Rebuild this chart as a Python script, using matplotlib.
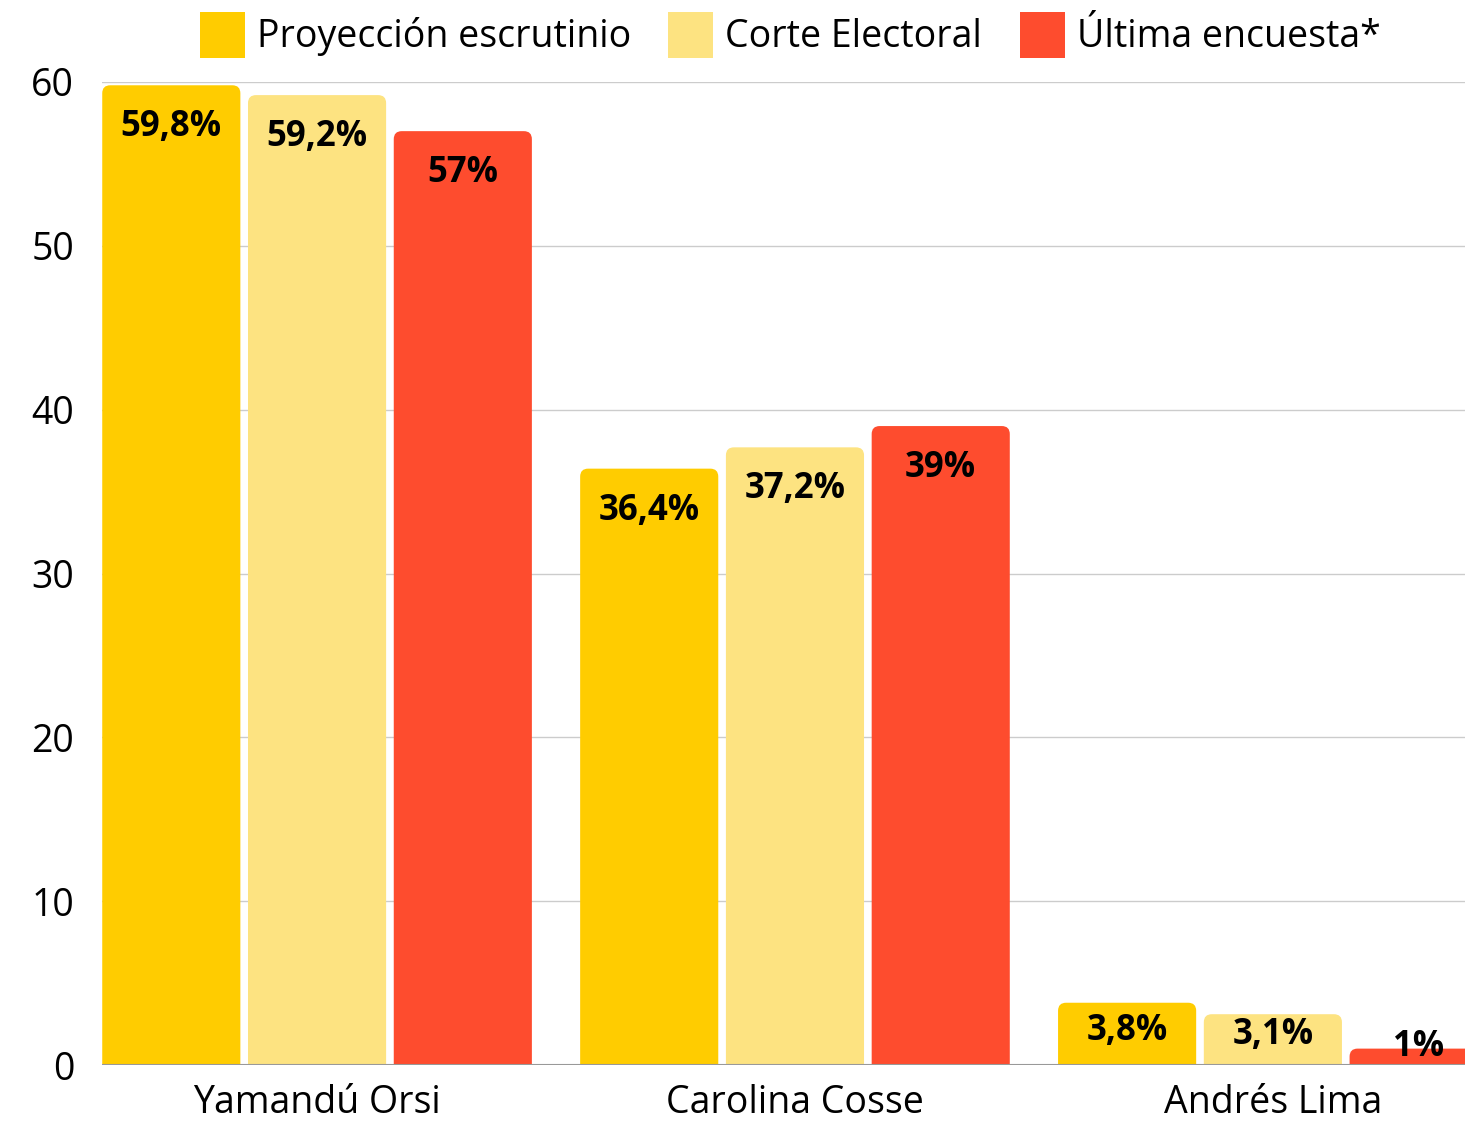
import matplotlib.pyplot as plt
from matplotlib.path import Path
from matplotlib.patches import PathPatch
import numpy as np

plt.rcParams['font.family'] = ['Open Sans', 'DejaVu Sans']

candidates = ['Yamandú Orsi', 'Carolina Cosse', 'Andrés Lima']
series = ['Proyección escrutinio', 'Corte Electoral', 'Última encuesta*']
proyeccion = [59.8, 36.4, 3.8]
corte = [59.2, 37.7, 3.1]   # bar drawn at ~37.7 in the source, labelled 37,2%
encuesta = [57, 39, 1]
labels = [['59,8%', '36,4%', '3,8%'],
          ['59,2%', '37,2%', '3,1%'],
          ['57%', '39%', '1%']]
colors = ['#FFCC00', '#FDE381', '#FE4C2E']

W, H = 1465, 1122
fig = plt.figure(figsize=(W / 100, H / 100), dpi=100)
ax = fig.add_axes([102 / W, 57 / H, (W - 102) / W, (1065 - 82) / H])

xmin, xmax = -0.45, 2.402
ymin, ymax = 0, 60
ax.set_xlim(xmin, xmax)
ax.set_ylim(ymin, ymax)

# pixels per data unit, used for rounded corners and label offsets
px_x = (W - 102) / (xmax - xmin)
px_y = (1065 - 82) / (ymax - ymin)

x = np.arange(len(candidates))
width = 0.289
step = 0.305


def rounded_top(rect, color, r=8):
    bx, by = rect.get_x(), rect.get_y()
    bw, bh = rect.get_width(), rect.get_height()
    rx, ry = r / px_x, min(r / px_y, bh)
    verts = [(bx, by), (bx, by + bh - ry), (bx, by + bh), (bx + rx, by + bh),
             (bx + bw - rx, by + bh), (bx + bw, by + bh), (bx + bw, by + bh - ry),
             (bx + bw, by), (bx, by)]
    codes = [Path.MOVETO, Path.LINETO, Path.CURVE3, Path.CURVE3,
             Path.LINETO, Path.CURVE3, Path.CURVE3, Path.LINETO, Path.CLOSEPOLY]
    patch = PathPatch(Path(verts, codes), facecolor=color, edgecolor='none', zorder=3)
    ax.add_patch(patch)


handles = []
for i, vals in enumerate([proyeccion, corte, encuesta]):
    bars = ax.bar(x + (i - 1) * step, vals, width, color=colors[i], label=series[i], zorder=3)
    handles.append(bars)
    for rect, lab in zip(bars, labels[i]):
        rect.set_visible(False)
        rounded_top(rect, colors[i])
        hpx = rect.get_height() * px_y
        below = min(42, 0.67 * hpx - 13)
        ax.text(rect.get_x() + rect.get_width() / 2, rect.get_height() - below / px_y, lab,
                ha='center', va='center', fontsize=25, fontweight='bold', color='black', zorder=4)

ax.set_yticks([0, 10, 20, 30, 40, 50, 60])
ax.set_xticks(x)
ax.set_xticklabels(candidates)
ax.tick_params(axis='y', length=0, pad=20, labelsize=27)
ax.tick_params(axis='x', length=0, pad=14, labelsize=27)
ax.grid(axis='y', color='#CCCCCC', linewidth=1, zorder=0)
ax.axhline(0, color='#999999', linewidth=1.5, zorder=5)
for s in ax.spines.values():
    s.set_visible(False)

leg = ax.legend(handles=handles, loc='center', bbox_to_anchor=(790 / W, (1122 - 35) / H), bbox_transform=fig.transFigure,
                ncol=3, frameon=False, fontsize=27, handlelength=1.2, handleheight=1.5,
                handletextpad=0.32, columnspacing=1.0, borderaxespad=0)
for h in leg.legend_handles:
    h.set_visible(True)

fig.savefig('out.png', dpi=100)
